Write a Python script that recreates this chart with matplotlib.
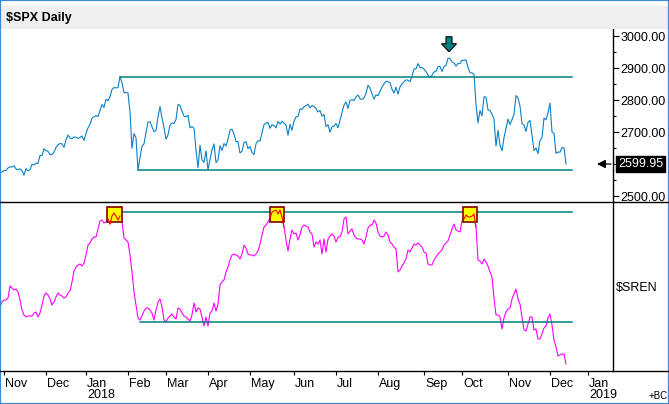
import numpy as np
import pandas as pd
import matplotlib
matplotlib.use("Agg")
import matplotlib.pyplot as plt
import matplotlib.transforms as mtransforms
from matplotlib.patches import Rectangle, FancyArrow
from matplotlib.lines import Line2D

plt.rcParams['font.family'] = ['Liberation Sans', 'DejaVu Sans']

# trading calendar (NYSE holidays in the window)
holidays = ['2017-11-23', '2017-12-25', '2018-01-01', '2018-01-15', '2018-02-19',
            '2018-03-30', '2018-05-28', '2018-07-04', '2018-09-03', '2018-11-22',
            '2018-12-05', '2018-12-25', '2019-01-01']
cal = pd.bdate_range('2017-10-30', '2019-01-31', freq='C', holidays=holidays)

# $SPX daily closes, 30 Oct 2017 .. 14 Dec 2018
spx = [2572.83, 2575.26,
       # Nov 2017
       2579.36, 2579.85, 2587.84, 2591.13, 2590.64, 2594.38, 2584.62, 2582.30, 2584.84, 2578.87,
       2564.62, 2585.64, 2578.85, 2582.14, 2599.03, 2597.08, 2602.42, 2601.42, 2627.04, 2626.07,
       2647.58,
       # Dec 2017
       2642.22, 2639.44, 2629.57, 2629.27, 2636.98, 2651.50, 2659.99, 2664.11, 2662.85, 2652.01,
       2675.81, 2690.16, 2681.47, 2679.25, 2684.57, 2683.34, 2680.50, 2682.62, 2687.54, 2673.61,
       # Jan 2018
       2695.81, 2713.06, 2723.99, 2743.15, 2747.71, 2751.29, 2748.23, 2767.56, 2786.24, 2776.42,
       2802.56, 2798.03, 2810.30, 2832.97, 2839.13, 2837.54, 2839.25, 2872.87, 2853.53, 2822.43,
       2823.81,
       # Feb
       2821.98, 2762.13, 2648.94, 2695.14, 2681.66, 2581.00, 2619.55, 2656.00, 2662.94, 2698.63,
       2731.20, 2732.22, 2716.26, 2701.33, 2703.96, 2747.30, 2779.60, 2744.28, 2713.83,
       # Mar
       2677.67, 2691.25, 2720.94, 2728.12, 2726.80, 2738.97, 2786.57, 2783.02, 2765.31, 2749.48,
       2747.33, 2752.01, 2712.92, 2716.94, 2711.93, 2643.69, 2588.26, 2658.55, 2612.62, 2605.00,
       2640.87,
       # Apr
       2581.88, 2614.45, 2644.69, 2662.84, 2604.47, 2613.16, 2656.87, 2642.19, 2663.99, 2656.30,
       2677.84, 2706.39, 2708.64, 2693.13, 2670.14, 2670.29, 2634.56, 2639.40, 2666.94, 2669.91,
       2648.05,
       # May
       2654.80, 2635.67, 2629.73, 2663.42, 2672.63, 2671.92, 2697.79, 2723.07, 2727.72, 2730.13,
       2711.45, 2722.46, 2720.13, 2712.97, 2733.01, 2724.44, 2733.29, 2727.76, 2721.33, 2689.86,
       2724.01, 2705.27,
       # Jun
       2734.62, 2746.87, 2748.80, 2772.35, 2770.37, 2779.03, 2782.00, 2786.85, 2775.63, 2782.49,
       2779.66, 2773.75, 2762.59, 2767.32, 2749.76, 2754.88, 2717.07, 2723.06, 2699.63, 2716.31,
       2718.37,
       # Jul
       2726.71, 2713.22, 2736.61, 2759.82, 2784.17, 2793.84, 2774.02, 2798.29, 2801.31, 2798.43,
       2809.55, 2815.62, 2804.49, 2801.83, 2806.98, 2820.40, 2846.07, 2837.44, 2818.82, 2802.60,
       2816.29,
       # Aug
       2813.36, 2827.22, 2840.35, 2850.40, 2858.45, 2857.70, 2853.58, 2833.28, 2821.93, 2839.96,
       2818.37, 2840.69, 2850.13, 2857.05, 2862.96, 2861.82, 2856.98, 2874.69, 2896.74, 2897.52,
       2914.04, 2901.13, 2901.52,
       # Sep
       2896.72, 2888.60, 2878.05, 2871.68, 2877.13, 2887.89, 2888.92, 2904.18, 2904.98, 2888.80,
       2904.31, 2907.95, 2930.75, 2929.67, 2919.37, 2915.56, 2905.97, 2914.00, 2913.98,
       # Oct
       2924.59, 2923.43, 2925.51, 2901.61, 2885.57, 2884.43, 2880.34, 2785.68, 2728.37, 2767.13,
       2750.79, 2809.92, 2809.21, 2768.78, 2767.78, 2755.88, 2740.69, 2656.10, 2705.57, 2658.69,
       2641.25, 2682.63, 2711.74,
       # Nov
       2740.37, 2723.06, 2738.31, 2755.45, 2813.89, 2806.83, 2781.01, 2726.22, 2722.18, 2701.58,
       2730.20, 2736.27, 2690.73, 2641.89, 2649.93, 2632.56, 2673.45, 2682.17, 2743.79, 2737.80,
       2760.17,
       # Dec
       2790.37, 2700.06, 2695.95, 2633.08, 2637.72, 2636.78, 2651.07, 2650.54, 2599.95]

# $SREN (relative units)
sren = [65, 70, 72, 72, 74, 86, 84, 82, 83, 80, 72, 62, 57, 55, 56, 56, 56, 59, 60, 55,
        59, 67, 76, 79, 77, 73, 67, 70, 75, 79, 77, 76, 74, 75, 79, 81, 90, 101, 105, 107,
        108, 106, 109, 117, 127, 129, 133, 135, 135, 143, 151, 152, 149, 150, 153, 148, 156, 159, 156, 152,
        156, 150, 134, 132, 130, 117, 100, 80, 67, 54, 52, 56, 61, 64, 64, 62, 59, 52, 62, 70,
        73, 65, 52, 50, 54, 56, 58, 55, 53, 64, 63, 59, 56, 55, 53, 51, 57, 69, 60, 64,
        63, 55, 46, 55, 46, 59, 61, 69, 61, 68, 87, 90, 92, 100, 105, 112, 117, 118, 117, 116,
        113, 118, 127, 124, 118, 117, 117, 116, 118, 121, 128, 137, 145, 147, 150, 154, 160, 161, 162, 158,
        162, 155, 145, 132, 121, 133, 142, 138, 139, 132, 137, 145, 147, 146, 145, 140, 138, 125, 130, 128,
        132, 118, 133, 120, 133, 136, 138, 136, 130, 135, 135, 140, 153, 155, 138, 141, 143, 137, 134, 133,
        133, 132, 128, 135, 144, 147, 147, 152, 149, 140, 136, 135, 136, 140, 137, 130, 128, 125, 123, 100,
        102, 106, 109, 113, 122, 120, 124, 128, 127, 129, 127, 125, 120, 119, 108, 107, 107, 112, 115, 118,
        120, 122, 127, 129, 131, 137, 143, 148, 142, 141, 140, 151, 153, 157, 155, 155, 156, 158, 145, 112,
        111, 108, 113, 110, 106, 100, 95, 74, 57, 57, 55, 43, 54, 60, 63, 64, 73, 78, 83, 73,
        68, 55, 42, 41, 48, 55, 55, 42, 43, 33, 33, 38, 44, 46, 54, 58, 47, 32, 25, 16,
        17, 18, 18, 8]

# user-drawn horizontal lines: (start date, level)
spx_lines = [('2018-01-26', 2872.87), ('2018-02-08', 2581.00)]
sren_lines = [(56.5, 159.7), (70, 49.7)]
line_end = 286
sren_boxes = [57.25, 138.5, 235]        # centres of the highlighted peaks
spx_arrow_date = '2018-09-20'

teal = '#008080'
W, H = 669, 404
x = np.arange(len(spx))
dates = cal[:len(spx)]


def fy(p):
    return 1 - p / H


fig = plt.figure(figsize=(W / 100, H / 100), dpi=100)
fig.patch.set_facecolor('white')

# title bar
fig.add_artist(Rectangle((0, fy(29)), 1, 23 / H, transform=fig.transFigure,
                         fc='#efefef', ec='none'))
fig.text(6 / W, fy(17.5), '$SPX Daily', fontsize=9, fontweight='bold', va='center')

ax1 = fig.add_axes([0, fy(202), 613 / W, (202 - 29) / H])
ax2 = fig.add_axes([0, fy(371), 613 / W, (371 - 202) / H])

for ax in (ax1, ax2):
    for s in ('top', 'left', 'bottom'):
        ax.spines[s].set_visible(False)
    ax.spines['right'].set_linewidth(1.0)
    ax.set_xlim(0, 306.5)
    ax.set_facecolor('white')

# upper panel
ax1.plot(x, spx, color='#0a80c8', lw=0.8)
for d, lvl in spx_lines:
    i0 = dates.get_loc(pd.Timestamp(d))
    ax1.plot([i0, line_end], [lvl, lvl], color=teal, lw=1.1)
ax1.set_ylim(2481.25, 3021.9)
ax1.yaxis.tick_right()
yt = list(range(2500, 3001, 100))
ax1.set_yticks(yt)
ax1.set_yticklabels(['' if v == 2600 else f'{v:.2f}' for v in yt])
ax1.set_yticks(range(2550, 3000, 100), minor=True)
ax1.tick_params(axis='y', which='major', length=4, width=0.8, labelsize=9, pad=1.5)
ax1.tick_params(axis='y', which='minor', length=2.5, width=0.8)
ax1.set_xticks([])

ia = dates.get_loc(pd.Timestamp(spx_arrow_date))
top = spx[ia] + 67
ax1.add_patch(FancyArrow(ia + 0.5, top, 0, -47, width=3, head_width=7.5, head_length=25,
                         length_includes_head=True, fc=teal, ec='black', lw=0.8))

last = spx[-1]
blend = mtransforms.blended_transform_factory(ax1.transAxes, ax1.transData)
ax1.text(618 / 613, last, f'{last:.2f}', transform=blend, color='white', fontsize=9,
         va='center', ha='left', clip_on=False, zorder=10,
         bbox=dict(fc='black', ec='black', pad=1.2))
ax1.annotate('', xy=(298.5, last), xytext=(305.5, last),
             arrowprops=dict(arrowstyle='-|>,head_length=0.5,head_width=0.25',
                             color='black', lw=0.9, shrinkA=0, shrinkB=0))

# lower panel
ax2.plot(x, sren, color='#ff00ff', lw=0.8)
for i0, lvl in sren_lines:
    ax2.plot([i0, line_end], [lvl, lvl], color=teal, lw=1.1)
for c in sren_boxes:
    ax2.add_patch(Rectangle((c - 3.6, 150), 7.2, 15, fc='#ffff00', ec='#800000', lw=1.2, zorder=3))
    m = (x >= c - 3.6) & (x <= c + 3.6)
    ax2.plot(x[m], np.array(sren)[m], color='red', lw=0.8, zorder=4)
ax2.set_ylim(1, 170)
ax2.set_yticks([])

month_pos = [i for i in range(1, len(cal)) if cal[i].month != cal[i - 1].month]
month_pos = [i for i in month_pos if i < 306]
labels = [cal[i].strftime('%b') + ('\n' + str(cal[i].year) if cal[i].month == 1 else '')
          for i in month_pos]
ax2.set_xticks(month_pos)
ax2.set_xticklabels(labels, ha='left', va='top', fontsize=9, linespacing=0.9)
ax2.tick_params(axis='x', length=3, width=0.8, pad=2)
for lab in ax2.get_xticklabels():
    lab.set_transform(lab.get_transform() + mtransforms.ScaledTranslation(1 / 100, 0, fig.dpi_scale_trans))

fig.text(616 / W, fy(288), '$SREN', fontsize=9, va='center')
fig.text(649 / W, fy(396), '+BC', fontsize=7, va='center')

# separators and frame
for p in (202, 371):
    fig.add_artist(Line2D([0, 1], [fy(p), fy(p)], color='black', lw=1.0, transform=fig.transFigure))
fig.add_artist(Rectangle((0, 0), 1, 1, transform=fig.transFigure, fill=False,
                         ec='#3a8ad6', lw=1.6))

fig.savefig('out.png', dpi=100)
